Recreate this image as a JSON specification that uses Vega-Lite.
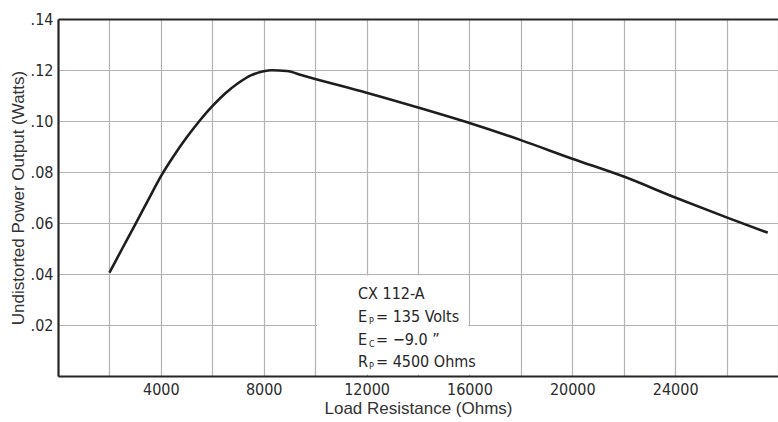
{
  "$schema": "https://vega.github.io/schema/vega-lite/v6.json",
  "width": 720,
  "height": 357,
  "autosize": {"type": "none"},
  "padding": {"left": 58, "top": 19, "right": 0, "bottom": 46},
  "background": "white",
  "config": {
    "view": {"stroke": null},
    "axis": {
      "grid": true,
      "gridColor": "#b3b3b3",
      "gridWidth": 1.2,
      "domainColor": "#262626",
      "domainWidth": 2.2,
      "ticks": false,
      "labelFont": "DejaVu Sans Condensed",
      "labelFontSize": 16,
      "labelColor": "#2b2b2b",
      "titleFont": "Liberation Sans",
      "titleFontSize": 17,
      "titleFontWeight": "normal",
      "titleColor": "#333333"
    }
  },
  "datasets": {
    "curve": [
      {"x": 2000, "y": 0.0405},
      {"x": 2500, "y": 0.0500},
      {"x": 3000, "y": 0.0594},
      {"x": 3500, "y": 0.0689},
      {"x": 4000, "y": 0.0783},
      {"x": 4500, "y": 0.0863},
      {"x": 5000, "y": 0.0935},
      {"x": 5500, "y": 0.1000},
      {"x": 6000, "y": 0.1058},
      {"x": 6500, "y": 0.1108},
      {"x": 7000, "y": 0.1148},
      {"x": 7500, "y": 0.1179},
      {"x": 8000, "y": 0.1195},
      {"x": 8300, "y": 0.1199},
      {"x": 8900, "y": 0.1196},
      {"x": 9500, "y": 0.1179},
      {"x": 10000, "y": 0.1165},
      {"x": 12000, "y": 0.1111},
      {"x": 14000, "y": 0.1053},
      {"x": 16000, "y": 0.0992},
      {"x": 18000, "y": 0.0925},
      {"x": 20000, "y": 0.0852},
      {"x": 22000, "y": 0.0782},
      {"x": 24000, "y": 0.0700},
      {"x": 26000, "y": 0.0622},
      {"x": 27600, "y": 0.0562}
    ],
    "box": [
      {"x": 10080, "x2": 15950, "y": 0.0006, "y2": 0.0394},
      {"x": 15950, "x2": 16900, "y": 0.0006, "y2": 0.0194}
    ],
    "notes": [
      {"x": 11667, "y": 0.0322, "a": "CX 112-A", "s": "", "r": ""},
      {"x": 11667, "y": 0.0231, "a": "E", "s": "P", "r": "= 135 Volts"},
      {"x": 11667, "y": 0.0141, "a": "E", "s": "C", "r": "= \u22129.0   \u201d"},
      {"x": 11667, "y": 0.0055, "a": "R", "s": "P", "r": "= 4500 Ohms"}
    ]
  },
  "encoding": {
    "x": {
      "field": "x",
      "type": "quantitative",
      "scale": {"domain": [0, 28000], "nice": false, "zero": false},
      "axis": {
        "title": "Load Resistance (Ohms)",
        "values": [0, 2000, 4000, 6000, 8000, 10000, 12000, 14000, 16000, 18000, 20000, 22000, 24000, 26000, 28000],
        "format": "d",
        "labelExpr": "datum.value % 4000 == 0 && datum.value > 0 && datum.value < 28000 ? datum.label : ''",
        "labelPadding": 5,
        "titlePadding": 3,
        "labelFlush": false,
        "labelOverlap": false
      }
    },
    "y": {
      "field": "y",
      "type": "quantitative",
      "scale": {"domain": [0, 0.14], "nice": false, "zero": false},
      "axis": {
        "title": "Undistorted Power Output (Watts)",
        "values": [0, 0.02, 0.04, 0.06, 0.08, 0.1, 0.12, 0.14],
        "labelExpr": "datum.value == 0 ? '' : replace(format(datum.value, '.2f'), '0.', '.')",
        "labelPadding": 5,
        "titlePadding": 3,
        "labelFlush": false,
        "labelOverlap": false,
        "gridColor": {"condition": {"test": "datum.value > 0.139", "value": "#262626"}, "value": "#b3b3b3"},
        "gridWidth": {"condition": {"test": "datum.value > 0.139", "value": 2.2}, "value": 1.2}
      }
    }
  },
  "layer": [
    {
      "data": {"name": "box"},
      "mark": {"type": "rect", "color": "white"},
      "encoding": {"x2": {"field": "x2"}, "y2": {"field": "y2"}}
    },
    {
      "data": {"name": "curve"},
      "mark": {"type": "line", "color": "#1e1e1e", "strokeWidth": 2.6, "interpolate": "monotone"}
    },
    {
      "data": {"name": "notes"},
      "mark": {"type": "text", "align": "left", "baseline": "middle", "font": "DejaVu Sans Condensed", "fontSize": 16, "color": "#262626"},
      "encoding": {"text": {"field": "a"}}
    },
    {
      "data": {"name": "notes"},
      "mark": {"type": "text", "align": "left", "baseline": "middle", "font": "DejaVu Sans Condensed", "fontSize": 9, "dx": 11, "dy": 4, "color": "#262626"},
      "encoding": {"text": {"field": "s"}}
    },
    {
      "data": {"name": "notes"},
      "mark": {"type": "text", "align": "left", "baseline": "middle", "font": "DejaVu Sans Condensed", "fontSize": 16, "dx": 18, "color": "#262626"},
      "encoding": {"text": {"field": "r"}}
    }
  ]
}
